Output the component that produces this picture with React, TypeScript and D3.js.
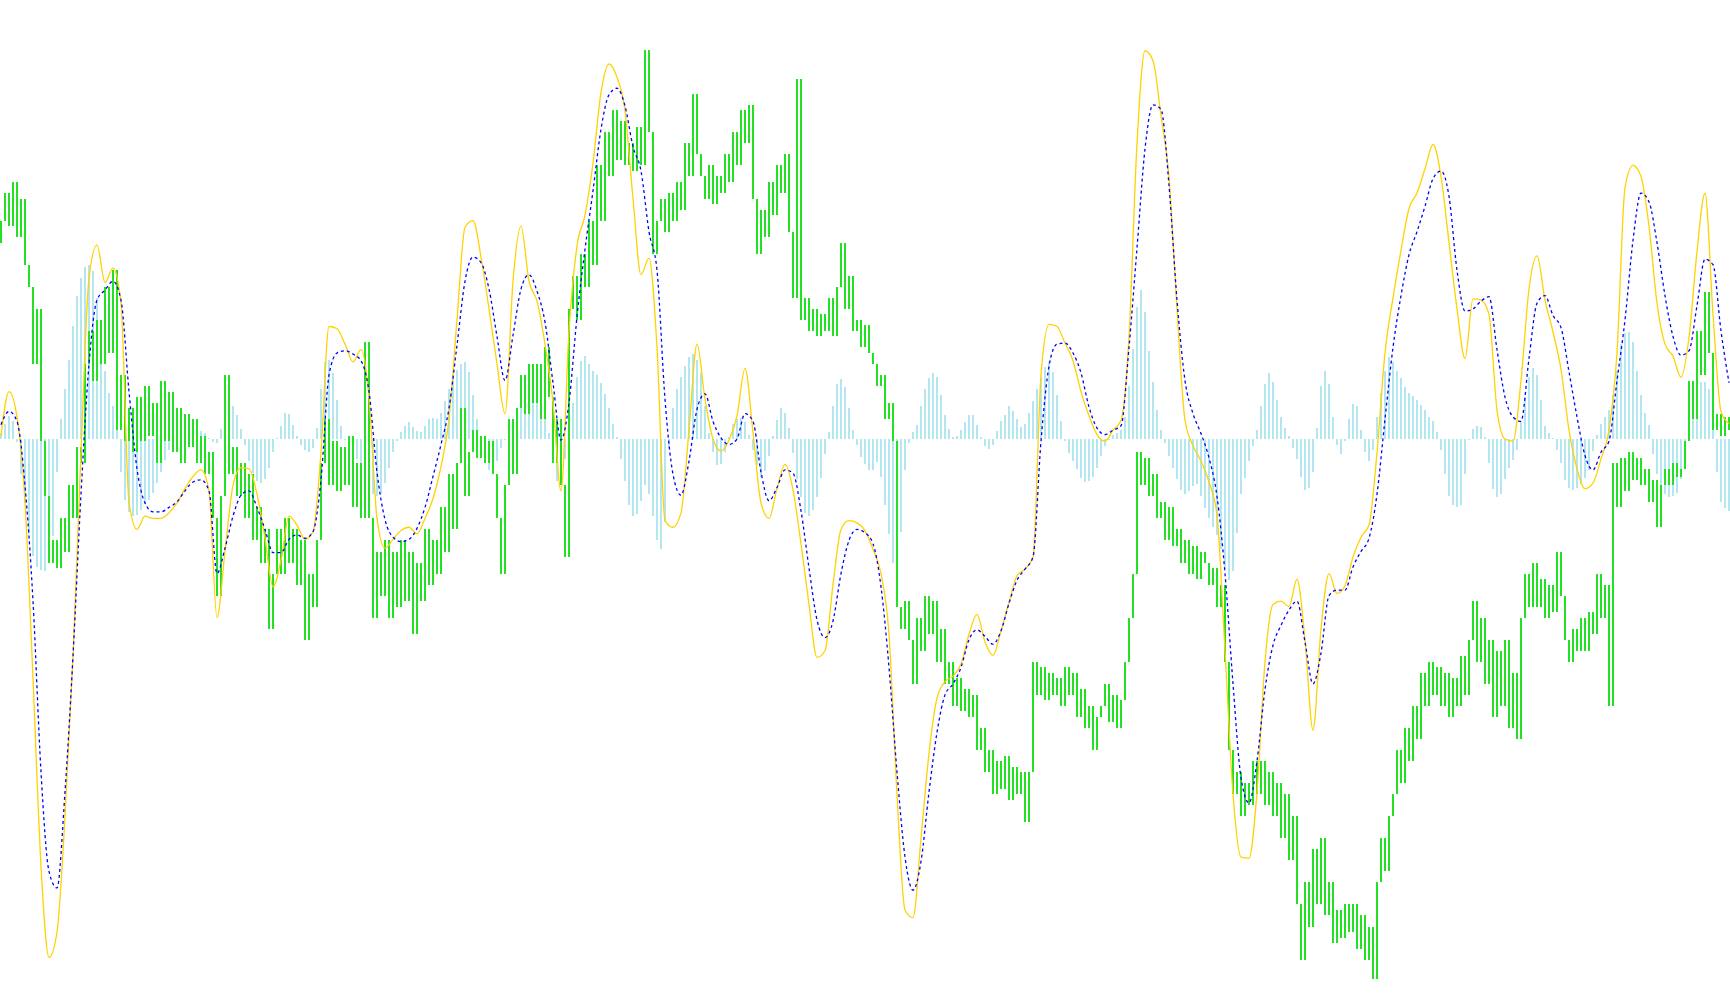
import React, { useEffect, useRef } from 'react'
import * as d3 from 'd3'

const WIDTH = 1730
const HEIGHT = 1005

// oscillator histogram (light blue), one value per bar
const histValues = [
  5, 14, 21, 16, -3, -32, -58, -86, -106, -116,
  -119, -120, -112, -88, -30, 18, 45, 72, 102, 130,
  146, 156, 158, 152, 128, 92, 62, 42, 30, 12,
  -30, -55, -66, -70, -69, -64, -59, -55, -49, -40,
  -30, -19, -10, -3, 4, 10, 13, 15, 12, 10,
  7, 5, 1, -3, -4, 9, 24, 29, 30, 22,
  9, -5, -20, -31, -38, -40, -36, -26, -12, 1,
  12, 24, 23, 13, 3, -5, -10, -12, -8, 10,
  45, 70, 72, 60, 35, 12, 0, -9, -14, -18,
  -23, -31, -42, -50, -52, -50, -40, -26, -12, -2,
  6, 12, 15, 11, 7, 6, 12, 18, 19, 18,
  24, 34, 45, 55, 63, 68, 70, 61, 40, 18,
  -2, -22, -28, -28, -20, -8, 0, 6, 14, 22,
  29, 36, 43, 48, 48, 40, 26, 5, -16, -38,
  -36, -18, 3, 33, 56, 71, 75, 68, 62, 58,
  51, 41, 28, 14, 2, -18, -38, -60, -70, -68,
  -56, -42, -50, -70, -92, -100, -75, -8, 28, 45,
  56, 66, 74, 77, 72, 60, 30, 5, -12, -24,
  -23, -12, 2, 14, 18, 19, 15, 4, -10, -24,
  -34, -29, -15, 3, 17, 28, 24, 10, -13, -36,
  -53, -67, -70, -64, -53, -35, -14, 6, 30, 50,
  54, 47, 28, 8, -5, -16, -23, -28, -28, -21,
  -34, -60, -86, -112, -120, -84, -28, -4, 6, 13,
  30, 45, 55, 60, 56, 40, 22, 9, 2, 3,
  8, 15, 22, 22, 13, 2, -6, -9, -5, 7,
  16, 22, 30, 25, 18, 11, 14, 24, 34, 45,
  56, 65, 70, 61, 40, 16, -2, -13, -20, -27,
  -35, -39, -38, -34, -26, -15, -6, 0, 4, 5,
  8, 20, 48, 82, 120, 135, 115, 80, 52, 26,
  8, -4, -15, -26, -36, -46, -50, -47, -43, -41,
  -52, -63, -72, -80, -87, -100, -118, -128, -120, -85,
  -50, -35, -20, -6, 8, 30, 50, 60, 52, 35,
  20, 10, 3, -8, -18, -34, -46, -44, -30, 10,
  48, 62, 50, 20, -5, -14, -2, 18, 32, 30,
  8, -12, -20, -10, 20, 42, 62, 74, 70, 62,
  55, 47, 42, 39, 35, 31, 26, 20, 16, 6,
  -10, -32, -52, -60, -62, -60, -32, 0, 9, 12,
  11, 2, -22, -45, -53, -50, -36, -26, -19, -10,
  16, 38, 56, 64, 58, 35, 12, 5, 1, -10,
  -22, -37, -44, -46, -44, -41, -35, -28, -11, 4,
  14, 20, 26, 40, 62, 86, 96, 97, 88, 62,
  40, 24, 13, -14, -32, -43, -50, -53, -52, -49,
  -36, -20, 2, 33, 47, 52, 52, 45, 20, -30,
  -57, -63, -65,
]

// green bars: close of each bar, every bar opens at the previous close
const greenFirstOpen = 178
const greenCloses = [
  198, 223, 193, 233, 183, 218, 158, 138, 68, 118,
  -2, -52, -112, -92, -117, -72, -102, -42, -72, -7,
  -22, 68, 98, 53, 108, 68, 138, 78, 153, 8,
  58, -2, 28, -12, 38, -2, 48, 3, 33, -22,
  53, -2, 43, -12, 28, -22, 23, -7, 18, -22,
  3, -32, -12, -72, -142, -52, 58, -32, -7, -52,
  -22, -72, -32, -92, -62, -112, -82, -172, -122, -82,
  -122, -72, -112, -82, -132, -92, -182, -122, -152, -92,
  -22, 18, -42, -2, -47, -7, -42, 3, -62, -22,
  -72, 88, -72, -162, -102, -142, -92, -162, -102, -152,
  -92, -147, -102, -177, -112, -147, -82, -132, -92, -122,
  -62, -102, -32, -82, -22, 28, -52, -12, 8, -17,
  3, -22, -2, -32, -72, -122, -42, 18, -32, 28,
  58, 23, 68, 33, 68, 18, 83, 38, -22, 18,
  -42, -107, 118, 148, 108, 168, 138, 198, 158, 248,
  198, 278, 238, 298, 253, 288, 248, 268, 243, 283,
  248, 353, 278, 168, 198, 218, 188, 223, 198, 233,
  208, 268, 238, 313, 258, 238, 218, 248, 213, 238,
  223, 258, 233, 278, 248, 298, 268, 303, 218, 168,
  208, 183, 233, 203, 248, 223, 258, 188, 128, 326,
  108, 128, 98, 118, 93, 113, 98, 128, 93, 138,
  178, 118, 148, 98, 108, 83, 103, 78, 68, 48,
  58, 18, 33, -2, -152, -172, -147, -182, -222, -162,
  -192, -142, -177, -147, -202, -172, -222, -202, -242, -217,
  -247, -227, -252, -232, -282, -262, -302, -282, -322, -292,
  -317, -287, -327, -297, -322, -302, -347, -302, -202, -232,
  -207, -237, -212, -232, -217, -242, -207, -232, -212, -252,
  -227, -262, -242, -282, -252, -242, -222, -257, -232, -262,
  -237, -202, -162, -122, -12, -42, -17, -52, -32, -72,
  -57, -92, -62, -97, -82, -112, -92, -122, -97, -127,
  -102, -112, -132, -117, -152, -132, -202, -282, -322, -302,
  -342, -312, -332, -292, -322, -292, -332, -302, -342, -312,
  -362, -322, -382, -342, -422, -472, -402, -442, -372, -422,
  -362, -432, -402, -457, -427, -452, -422, -447, -422, -462,
  -432, -472, -442, -490, -402, -362, -392, -342, -322, -282,
  -312, -262, -292, -242, -272, -212, -242, -202, -232, -207,
  -242, -212, -252, -217, -242, -197, -232, -182, -147, -202,
  -162, -222, -182, -252, -192, -242, -182, -262, -212, -272,
  -162, -122, -152, -112, -152, -127, -162, -132, -157, -102,
  -142, -182, -202, -172, -192, -162, -192, -157, -177, -122,
  -162, -132, -242, -22, -62, -17, -47, -12, -37, -17,
  -42, -27, -57, -37, -80, -42, -27, -42, -22, -34,
  -27, -2, 53, 18, 98, 58, 133, 78, 8, 23,
  3, 20, 8,
]

// fast signal (yellow), one value every second bar
const fastLine = [
  3, 43, 20, -57, -217, -387, -470, -447, -342, -197,
  -12, 146, 176, 142, 155, 123, -57, -82, -70, -72,
  -72, -67, -58, -45, -34, -28, -47, -162, -102, -42,
  -26, -27, -50, -90, -134, -110, -70, -78, -91, -84,
  -12, 102, 100, 86, 70, 81, 38, -72, -99, -91,
  -83, -80, -86, -72, -54, -25, 18, 108, 192, 198,
  165, 118, 68, 23, 143, 193, 143, 125, 86, 33,
  -47, 98, 175, 203, 250, 314, 340, 328, 298, 218,
  149, 164, 83, -74, -80, -67, 8, 86, 36, 0,
  -11, -1, 21, 64, 6, -58, -72, -45, -23, -46,
  -95, -150, -198, -192, -132, -82, -74, -76, -83, -100,
  -122, -177, -322, -427, -434, -362, -285, -235, -220, -215,
  -204, -177, -159, -184, -196, -174, -148, -124, -118, -107,
  58, 104, 102, 87, 71, 43, 21, 4, -2, 8,
  17, 93, 268, 352, 343, 293, 238, 118, 17, -6,
  -20, -39, -69, -192, -322, -379, -380, -320, -202, -150,
  -147, -152, -127, -182, -264, -172, -122, -140, -133, -107,
  -89, -78, -12, 78, 128, 171, 209, 223, 245, 267,
  238, 178, 118, 73, 127, 126, 113, 26, 0, -2,
  53, 136, 166, 126, 97, 63, 8, -27, -45, -40,
  -18, 8, 78, 228, 248, 238, 193, 123, 86, 75,
  56, 92, 170, 223, 113, 25, 14,
]

// slow signal (blue dotted), one value every second bar
const slowLine = [
  13, 25, 16, -42, -147, -302, -392, -407, -320, -197,
  -50, 68, 126, 135, 143, 126, 43, -27, -58, -66,
  -66, -62, -57, -47, -39, -37, -47, -122, -99, -70,
  -51, -47, -62, -82, -103, -103, -91, -87, -90, -84,
  -37, 58, 78, 80, 77, 71, 43, -30, -73, -89,
  -93, -91, -81, -62, -34, -5, 28, 85, 143, 165,
  160, 136, 93, 53, 94, 136, 149, 134, 106, 51,
  -1, 33, 111, 172, 225, 281, 312, 318, 302, 265,
  243, 188, 153, 36, -32, -51, -20, 27, 41, 16,
  1, -5, 0, 23, 16, -30, -56, -44, -28, -31,
  -65, -117, -164, -180, -165, -122, -92, -82, -85, -95,
  -134, -207, -302, -379, -409, -383, -320, -266, -232, -222,
  -207, -182, -173, -179, -186, -174, -149, -128, -118, -107,
  -2, 66, 86, 87, 78, 60, 29, 10, 4, 8,
  12, 83, 173, 263, 303, 299, 230, 126, 53, 23,
  5, -17, -52, -122, -222, -307, -330, -292, -227, -187,
  -169, -155, -147, -184, -222, -194, -142, -137, -137, -116,
  -102, -90, -50, 18, 83, 130, 167, 188, 211, 236,
  243, 220, 153, 116, 118, 125, 129, 81, 38, 20,
  16, 73, 123, 130, 112, 101, 61, 20, -15, -28,
  -12, -2, 53, 108, 180, 223, 215, 178, 130, 93,
  76, 80, 121, 163, 158, 98, 51,
]

export default function App() {
  const svgRef = useRef<SVGSVGElement>(null)

  useEffect(() => {
    if (!svgRef.current) return
    const svg = d3.select(svgRef.current)
    svg.selectAll('*').remove()

    const xBar = d3.scaleLinear().domain([0, histValues.length - 1]).range([1, WIDTH - 1])
    const xLine = d3.scaleLinear().domain([0, fastLine.length - 1]).range([1, WIDTH - 1])
    const y = d3.scaleLinear().domain([-500, 400]).range([990.5, -2.2])

    svg.append('rect').attr('width', WIDTH).attr('height', HEIGHT).attr('fill', '#ffffff')

    // light blue histogram from the zero line
    svg.append('g')
      .attr('shape-rendering', 'crispEdges')
      .selectAll('rect')
      .data(histValues)
      .join('rect')
      .attr('x', (_, i) => Math.round(xBar(i)) - 1)
      .attr('width', 2)
      .attr('y', d => Math.min(y(d), y(0)))
      .attr('height', d => Math.max(1, Math.abs(y(d) - y(0))))
      .attr('fill', '#b3e6ee')

    // green bars, previous close to current close
    svg.append('g')
      .attr('shape-rendering', 'crispEdges')
      .selectAll('rect')
      .data(greenCloses)
      .join('rect')
      .attr('x', (_, i) => Math.round(xBar(i)) - 1)
      .attr('width', 2)
      .attr('y', (d, i) => {
        const o = i === 0 ? greenFirstOpen : greenCloses[i - 1]
        return Math.min(y(o), y(d))
      })
      .attr('height', (d, i) => {
        const o = i === 0 ? greenFirstOpen : greenCloses[i - 1]
        return Math.max(1, Math.abs(y(o) - y(d)))
      })
      .attr('fill', '#22e022')

    const line = d3.line<number>()
      .x((_, i) => xLine(i))
      .y(d => y(d))
      .curve(d3.curveMonotoneX)

    svg.append('path')
      .datum(fastLine)
      .attr('fill', 'none')
      .attr('stroke', '#ffd200')
      .attr('stroke-width', 1.3)
      .attr('d', line)

    svg.append('path')
      .datum(slowLine)
      .attr('fill', 'none')
      .attr('stroke', '#0000ff')
      .attr('stroke-width', 1.3)
      .attr('stroke-dasharray', '3,3')
      .attr('d', line)
  }, [])

  return (
    <svg
      ref={svgRef}
      width={WIDTH}
      height={HEIGHT}
      style={{ position: 'fixed', left: 0, top: 0, display: 'block' }}
    />
  )
}
